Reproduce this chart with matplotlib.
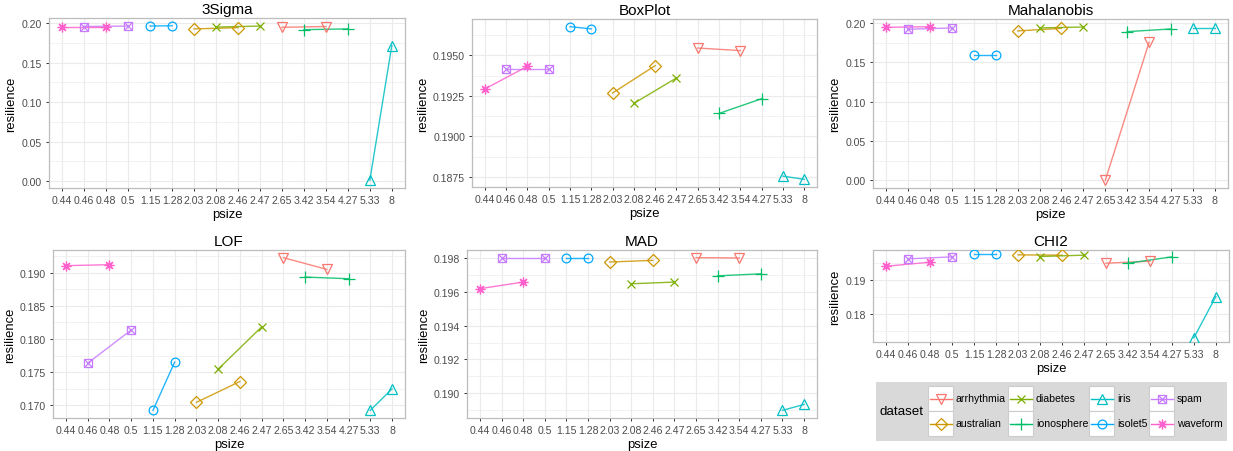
import matplotlib
matplotlib.use('Agg')
import matplotlib.pyplot as plt
from matplotlib.path import Path
from matplotlib.patches import Rectangle
from matplotlib.lines import Line2D
from matplotlib.ticker import FixedLocator, FuncFormatter

plt.rcParams['font.family'] = ['Liberation Sans', 'DejaVu Sans']

# ---------------- data ----------------
psize_levels = ['0.44', '0.46', '0.48', '0.5', '1.15', '1.28', '2.03', '2.08',
                '2.46', '2.47', '2.65', '3.42', '3.54', '4.27', '5.33', '8']

datasets = ['arrhythmia', 'australian', 'diabetes', 'ionosphere',
            'iris', 'isolet5', 'spam', 'waveform']

dataset_psize = [['2.65', '3.54'], ['2.03', '2.46'], ['2.08', '2.47'], ['3.42', '4.27'],
                 ['5.33', '8'], ['1.15', '1.28'], ['0.46', '0.5'], ['0.44', '0.48']]

res_3sigma = [[0.1950, 0.1960], [0.1930, 0.1945], [0.1953, 0.1966], [0.1920, 0.1930],
              [0.0010, 0.1719], [0.1966, 0.1970], [0.1960, 0.1966], [0.1960, 0.1960]]

res_boxplot = [[0.19545, 0.19529], [0.19267, 0.19436], [0.19203, 0.19360], [0.19141, 0.19232],
               [0.18754, 0.18734], [0.19677, 0.19663], [0.19418, 0.19418], [0.19292, 0.19432]]

res_mahalanobis = [[0.0000, 0.1755], [0.1899, 0.1932], [0.1937, 0.1949], [0.1890, 0.1924],
                   [0.1932, 0.1932], [0.1598, 0.1598], [0.1920, 0.1937], [0.1945, 0.1953]]

res_lof = [[0.19227, 0.19050], [0.17045, 0.17359], [0.17545, 0.18182], [0.18934, 0.18909],
           [0.16924, 0.17247], [0.16924, 0.17652], [0.17636, 0.18136], [0.19106, 0.19121]]

res_mad = [[0.19804, 0.19802], [0.19778, 0.19788], [0.19649, 0.19659], [0.19696, 0.19708],
           [0.18898, 0.18933], [0.19802, 0.19802], [0.19802, 0.19802], [0.19620, 0.19659]]

res_chi2 = [[0.19505, 0.19564], [0.19752, 0.19743], [0.19703, 0.19743], [0.19505, 0.19693],
            [0.17297, 0.18515], [0.19772, 0.19772], [0.19634, 0.19693], [0.19416, 0.19535]]

methods = ['3Sigma', 'BoxPlot', 'Mahalanobis', 'LOF', 'MAD', 'CHI2']
method_values = [res_3sigma, res_boxplot, res_mahalanobis, res_lof, res_mad, res_chi2]
y_ticks = [[0.0, 0.05, 0.10, 0.15, 0.20],
           [0.1875, 0.1900, 0.1925, 0.1950],
           [0.0, 0.05, 0.10, 0.15, 0.20],
           [0.170, 0.175, 0.180, 0.185, 0.190],
           [0.190, 0.192, 0.194, 0.196, 0.198],
           [0.18, 0.19]]
y_decimals = [2, 4, 2, 3, 3, 2]

# ---------------- styles ----------------
colors = ['#F8766D', '#CD9600', '#7CAE00', '#00BE67', '#00BFC4', '#00A9FF', '#C77CFF', '#FF61CC']

sq_cross = Path([(-1, -1), (1, -1), (1, 1), (-1, 1), (-1, -1),
                 (-1, -1), (1, 1), (-1, 1), (1, -1)],
                [Path.MOVETO, Path.LINETO, Path.LINETO, Path.LINETO, Path.CLOSEPOLY,
                 Path.MOVETO, Path.LINETO, Path.MOVETO, Path.LINETO])
markers = ['v', 'D', 'x', '+', '^', 'o', sq_cross, (8, 2, 0)]
msizes = [7.5, 6.0, 6.0, 8.0, 7.5, 6.3, 5.8, 7.0]

W, H = 1233, 452
fig = plt.figure(figsize=(W / 100, H / 100), dpi=100)

# panel rectangles in pixels: left, right, top, bottom
panels_px = [(49, 405, 19, 189), (472, 817, 20, 188), (873, 1228, 20, 189),
             (53, 405, 251, 419), (467, 817, 251, 419), (873, 1229, 251, 343)]

TICK_COL = '#4D4D4D'
GRID_COL = '#EBEBEB'

for i, (name, vals) in enumerate(zip(methods, method_values)):
    l, r, t, b = panels_px[i]
    ax = fig.add_axes([l / W, 1 - b / H, (r - l) / W, (b - t) / H])
    for k, ds in enumerate(datasets):
        xs = [psize_levels.index(p) for p in dataset_psize[k]]
        ax.plot(xs, vals[k], color=colors[k], lw=1.0, alpha=0.85, zorder=3)
        ax.plot(xs, vals[k], linestyle='none', marker=markers[k], ms=msizes[k],
                mfc='none', mec=colors[k], mew=0.9, zorder=4)
    ax.set_xlim(-0.6, len(psize_levels) - 0.4)
    ax.margins(y=0.05)
    ax.set_xticks(range(len(psize_levels)))
    ax.set_xticklabels(psize_levels)
    yt = y_ticks[i]
    ax.yaxis.set_major_locator(FixedLocator(yt))
    step = yt[1] - yt[0]
    minors = [yt[0] - step / 2] + [v + step / 2 for v in yt]
    ax.yaxis.set_minor_locator(FixedLocator(minors))
    d = y_decimals[i]
    ax.yaxis.set_major_formatter(FuncFormatter(lambda v, p, d=d: f'{v:.{d}f}'))
    ax.tick_params(axis='both', which='major', labelsize=7.6, colors='#333333',
                   labelcolor=TICK_COL, length=2.5, width=0.7, pad=2.5)
    ax.tick_params(axis='y', which='minor', length=0)
    ax.grid(True, which='major', color=GRID_COL, lw=0.8, zorder=0)
    ax.grid(True, which='minor', axis='y', color=GRID_COL, lw=0.45, zorder=0)
    ax.set_axisbelow(True)
    for s in ax.spines.values():
        s.set_color('#BDBDBD')
        s.set_linewidth(0.9)
    ax.set_title(name, fontsize=11, pad=3.5)
    ax.set_xlabel('psize', fontsize=9.4, labelpad=2.5)
    ax.set_ylabel('resilience', fontsize=9.4, labelpad=3)

# ---------------- legend ----------------
lg_l, lg_r, lg_t, lg_b = 876, 1227, 383, 442
lax = fig.add_axes([lg_l / W, 1 - lg_b / H, (lg_r - lg_l) / W, (lg_b - lg_t) / H])
lax.set_xlim(lg_l, lg_r)
lax.set_ylim(lg_b, lg_t)
lax.axis('off')
lax.add_patch(Rectangle((lg_l, lg_t), lg_r - lg_l, lg_b - lg_t, facecolor='#D9D9D9',
                        edgecolor='none', zorder=0))
lax.text(880, (lg_t + lg_b) / 2, 'dataset', fontsize=9.6, va='center', ha='left')
col_x = [928, 1008, 1089, 1149]
row_y = [387, 412]
key = 25
for k, ds in enumerate(datasets):
    cx = col_x[k // 2]
    ry = row_y[k % 2]
    lax.add_patch(Rectangle((cx, ry), key, key, facecolor='white', edgecolor='#CCCCCC',
                            lw=0.8, zorder=1))
    yc = ry + key / 2
    lax.add_line(Line2D([cx + 1.5, cx + key - 1.5], [yc, yc], color=colors[k], lw=1.0, zorder=2))
    lax.plot([cx + key / 2], [yc], linestyle='none', marker=markers[k], ms=msizes[k],
             mfc='none', mec=colors[k], mew=0.9, zorder=3)
    lax.text(cx + key + 3, yc, ds, fontsize=7.6, va='center', ha='left', color='black')

fig.savefig('out.png', dpi=100)
